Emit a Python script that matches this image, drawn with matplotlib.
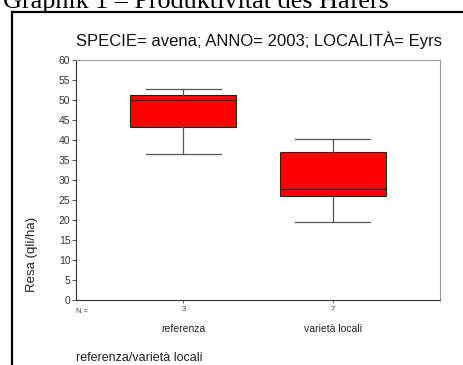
import numpy as np
import matplotlib
matplotlib.use("Agg")
import matplotlib.pyplot as plt
from matplotlib.lines import Line2D

# DATA
groups = ["referenza", "varietà locali"]
counts = [3, 7]
whis_low = [36.5, 19.6]
q1 = [43.2, 26.1]
median = [49.9, 27.8]
q3 = [51.2, 37.0]
whis_high = [52.7, 40.2]

W, H = 463, 365
fig = plt.figure(figsize=(W / 100, H / 100), dpi=100)
plt.rcParams['font.family'] = ['Liberation Sans', 'DejaVu Sans']

# page caption and frame around the SPSS chart
fig.text(3 / W, 1 - 8 / H, "Graphik 1 – Produktivität des Hafers",
         family="Liberation Serif", fontsize=18.8, ha="left", va="baseline")
fig.add_artist(Line2D([12 / W, 1.0], [1 - 12 / H] * 2, color="black", lw=1.6,
                      transform=fig.transFigure))
fig.add_artist(Line2D([12 / W] * 2, [0.0, 1 - 12 / H], color="black", lw=1.6,
                      transform=fig.transFigure))

ax = fig.add_axes([76 / W, (H - 300) / H, (440 - 76) / W, (300 - 60) / H])

stats = []
for i in range(len(groups)):
    stats.append(dict(whislo=whis_low[i], q1=q1[i], med=median[i],
                      q3=q3[i], whishi=whis_high[i], fliers=[]))

ax.bxp(stats, positions=[1, 2], widths=0.71, patch_artist=True,
       showfliers=False,
       boxprops=dict(facecolor="#ff0000", edgecolor="#222222", linewidth=0.8),
       medianprops=dict(color="#222222", linewidth=0.9),
       whiskerprops=dict(color="#555555", linewidth=0.9),
       capprops=dict(color="#555555", linewidth=0.9),
       capwidths=0.5)

ax.set_xlim(0.28, 2.72)
ax.set_ylim(0, 60)
ax.set_yticks(np.arange(0, 61, 5))
ax.tick_params(axis="y", labelsize=7.5, length=3, width=0.6, colors="#333333", pad=1)
ax.set_xticks([1, 2])
ax.set_xticklabels([str(c) for c in counts])
ax.tick_params(axis="x", labelsize=5.5, length=2, width=0.6, colors="#444444", pad=2)

for s in ["left", "bottom"]:
    ax.spines[s].set_color("#333333")
    ax.spines[s].set_linewidth(0.8)
for s in ["top", "right"]:
    ax.spines[s].set_color("#999999")
    ax.spines[s].set_linewidth(0.8)

# y title sits low, like in the SPSS export
fig.text(32 / W, 1 - 255 / H, "Resa (qli/ha)", fontsize=9.5, color="#222222",
         rotation=90, ha="center", va="center")

# N = and category names below the axis
ax.text(0.0, -0.035, "N =", transform=ax.transAxes, fontsize=5.5,
        color="#444444", ha="left", va="top")
for i, g in enumerate(groups):
    ax.text(i + 1, -0.10, g, transform=ax.get_xaxis_transform(), fontsize=7.5,
            color="#222222", ha="center", va="top")

fig.text(76 / W, 1 - 358 / H, "referenza/varietà locali", fontsize=9,
         color="#222222", ha="left", va="center")

fig.text(259 / W, 1 - 40 / H, "SPECIE= avena; ANNO= 2003; LOCALITÀ= Eyrs",
         fontsize=12, color="#111111", ha="center", va="center")

fig.savefig("out.png", dpi=100)
